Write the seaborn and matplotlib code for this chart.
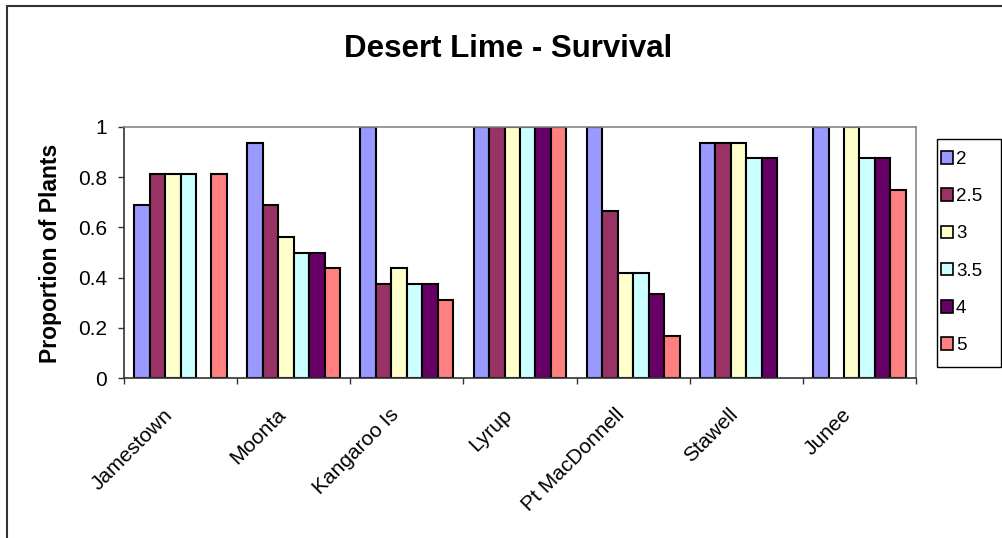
import numpy as np
import pandas as pd
import matplotlib
matplotlib.use("Agg")
import matplotlib.pyplot as plt
import matplotlib.transforms as mtransforms
import seaborn as sns
from matplotlib.patches import Rectangle, Patch

sites = ["Jamestown", "Moonta", "Kangaroo Is", "Lyrup", "Pt MacDonnell", "Stawell", "Junee"]
levels = ["2", "2.5", "3", "3.5", "4", "5"]
v_2 = [0.6875, 0.9375, 1.0, 1.0, 1.0, 0.9375, 1.0]
v_2_5 = [0.8125, 0.6875, 0.375, 1.0, 0.6667, 0.9375, np.nan]
v_3 = [0.8125, 0.5625, 0.4375, 1.0, 0.4167, 0.9375, 1.0]
v_3_5 = [0.8125, 0.5, 0.375, 1.0, 0.4167, 0.875, 0.875]
v_4 = [np.nan, 0.5, 0.375, 1.0, 0.3333, 0.875, 0.875]
v_5 = [0.8125, 0.4375, 0.3125, 1.0, 0.1667, np.nan, 0.75]
colors = ["#9999FF", "#993366", "#FFFFCC", "#CCFFFF", "#660066", "#FF8080"]
yticks = [0, 0.2, 0.4, 0.6, 0.8, 1.0]
ytick_labels = ["0", "0.2", "0.4", "0.6", "0.8", "1"]

series = [v_2, v_2_5, v_3, v_3_5, v_4, v_5]
rows = []
for lev, vals in zip(levels, series):
    for s, v in zip(sites, vals):
        rows.append({"Site": s, "Level": lev, "Value": v})
df = pd.DataFrame(rows)

sns.set_theme(style="white")
plt.rcParams["font.family"] = ["Liberation Sans", "DejaVu Sans"]
plt.rcParams["text.color"] = "black"
plt.rcParams["xtick.color"] = "black"
plt.rcParams["ytick.color"] = "black"
plt.rcParams["axes.labelcolor"] = "black"

W, H = 1002, 538
fig = plt.figure(figsize=(W / 100, H / 100), dpi=100)
ax = fig.add_axes([124 / W, 1 - 378 / H, (916 - 124) / W, (378 - 127) / H])

sns.barplot(data=df, x="Site", y="Value", hue="Level", order=sites,
            hue_order=levels, palette=colors, width=0.82, gap=0,
            edgecolor="black", linewidth=1.5, saturation=1, ax=ax,
            legend=False, errorbar=None)

ax.set_xlim(-0.5, 6.5)
ax.set_ylim(0, 1)
ax.set_xlabel("")
ax.set_ylabel("")
ax.set_yticks(yticks)
ax.set_yticklabels(ytick_labels, fontsize=15)
ax.tick_params(axis="y", which="major", direction="out", length=4.3, width=1,
               color="#333333", left=True, pad=8)
ax.set_xticks(range(len(sites)))
ax.set_xticklabels(sites, rotation=45, ha="right", va="top",
                   rotation_mode="anchor", fontsize=15)
ax.tick_params(axis="x", which="major", length=0, pad=19.5)
shift = mtransforms.ScaledTranslation(-18 / 100, 0, fig.dpi_scale_trans)
for lab in ax.get_xticklabels():
    lab.set_transform(lab.get_transform() + shift)
ax.set_xticks(np.arange(-0.5, 7, 1), minor=True)
ax.tick_params(axis="x", which="minor", direction="out", length=4.3, width=1,
               color="#333333", bottom=True)

for side in ["left", "bottom"]:
    ax.spines[side].set_color("#333333")
    ax.spines[side].set_linewidth(1.2)
for side in ["top", "right"]:
    ax.spines[side].set_color("#888888")
    ax.spines[side].set_linewidth(1.2)

fig.text(508 / W, 1 - 57 / H, "Desert Lime - Survival", ha="center", va="baseline",
         fontsize=22.5, fontweight="bold")
fig.text(51 / W, 1 - 253 / H, "Proportion of Plants", ha="center", va="center",
         rotation=90, fontsize=16.5, fontweight="bold")

handles = [Patch(facecolor=c, edgecolor="black", linewidth=1.2) for c in colors]
leg = fig.legend(handles, levels, loc="center left",
                 bbox_to_anchor=(941 / W, 1 - 252.5 / H), fontsize=13.5,
                 frameon=False,
                 handlelength=0.65, handleheight=0.65, handletextpad=0.15,
                 labelspacing=1.08, borderpad=0, borderaxespad=0)

fig.patches.append(Rectangle((937 / W, 1 - 367 / H), (1001 - 937) / W, (367 - 139) / H,
                             transform=fig.transFigure, fill=False,
                             edgecolor="black", linewidth=1))
fig.patches.append(Rectangle((7 / W, -0.1), 2, 1 - 6 / H + 0.1,
                             transform=fig.transFigure, fill=False,
                             edgecolor="#333333", linewidth=1.5))

fig.savefig("out.png", dpi=100)
